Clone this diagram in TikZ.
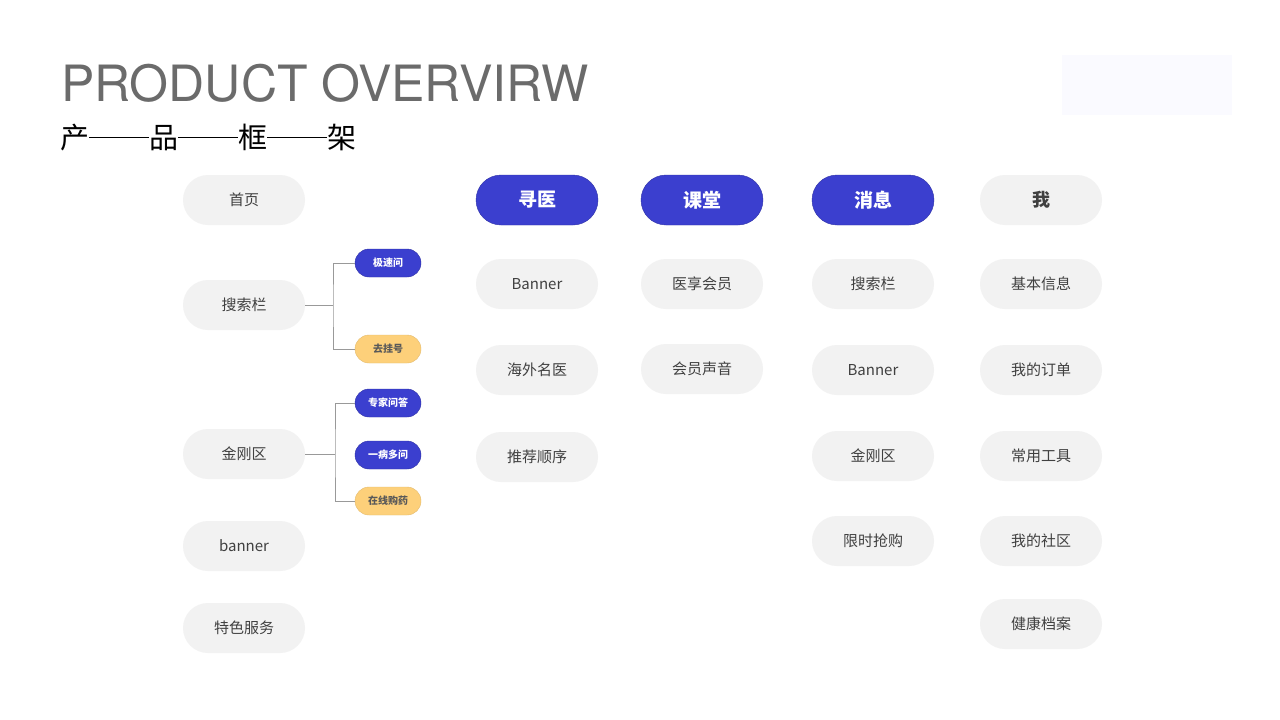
\documentclass[tikz,border=0pt]{standalone}
\usepackage{fontspec}
\setmainfont{TeX Gyre Heros}
\newfontfamily\cjk{Noto Sans CJK SC}
\usetikzlibrary{positioning}
\definecolor{pillgray}{HTML}{F2F2F2}
\definecolor{pillblue}{HTML}{3B3FCF}
\definecolor{pillyellow}{HTML}{FDD07A}
\definecolor{titlegray}{HTML}{6B6B6B}
\newcommand{\sep}{\rule[0.33em]{60pt}{1.1pt}}

\begin{document}
\begin{tikzpicture}[x=1pt, y=-1pt,
		pill/.style={rectangle, fill=pillgray, minimum width=122pt, minimum height=50pt, rounded corners=25pt, text=black!75, font=\cjk\fontsize{15}{15}\selectfont},
		head/.style={pill, fill=pillblue, draw=pillblue!80!black, text=white, font=\cjk\bfseries\fontsize{19}{19}\selectfont},
		tag/.style={rectangle, fill=pillblue, draw=pillblue!80!black, minimum width=66pt, minimum height=28pt, rounded corners=14pt, text=white, font=\cjk\bfseries\fontsize{10}{10}\selectfont},
		tagy/.style={tag, fill=pillyellow, draw=pillyellow!90!black, text=black!65},
		link/.style={draw=gray!80, line width=0.8pt}]
		\useasboundingbox (0,0) rectangle (1280,720);
		\fill[white] (0,0) rectangle (1280,720);
		\fill[blue!2] (1062,55) rectangle (1232,115);
		
		\node (title) [anchor=base west, inner sep=0, text=titlegray, font=\fontsize{50}{50}\selectfont] at (61,101) {PRODUCT OVERVIRW};
		\node (subtitle) [anchor=base west, inner sep=0, font=\cjk\fontsize{29}{29}\selectfont] at (60,148) {产\sep 品\sep 框\sep 架};
		
		% column 1
		\node (home) [pill] at (244,200) {首页};
		\node (search) [pill] at (244,305) {搜索栏};
		\node (kingkong) [pill] at (244,454) {金刚区};
		\node (banner) [pill] at (244,546) {banner};
		\node (special) [pill] at (244,628) {特色服务};
		
		\node (fastask) [tag] at (388,263) {极速问};
		\node (register) [tagy] at (388,349) {去挂号};
		\node (expert) [tag] at (388,403) {专家问答};
		\node (multi) [tag] at (388,455) {一病多问};
		\node (drug) [tagy] at (388,501) {在线购药};
		
		\draw[link] (search.east) -- (333,305) coordinate (sfork);
		\draw[link] (fastask.west) -| (sfork) |- (register.west);
		\draw[link] (kingkong.east) -- (335,454) coordinate (kfork);
		\draw[link] (expert.west) -| (kfork) |- (drug.west);
		
		% column 2
		\node (doctor) [head] at (537,200) {寻医};
		\node (dbanner) [pill] at (537,284) {Banner};
		\node (overseas) [pill] at (537,370) {海外名医};
		\node (order) [pill] at (537,457) {推荐顺序};
		
		% column 3
		\node (class) [head] at (702,200) {课堂};
		\node (member) [pill] at (702,284) {医享会员};
		\node (voice) [pill] at (702,369) {会员声音};
		
		% column 4
		\node (message) [head] at (873,200) {消息};
		\node (msearch) [pill] at (873,284) {搜索栏};
		\node (mbanner) [pill] at (873,370) {Banner};
		\node (mkingkong) [pill] at (873,456) {金刚区};
		\node (flash) [pill] at (873,541) {限时抢购};
		
		% column 5
		\node (me) [pill, font=\cjk\bfseries\fontsize{18}{18}\selectfont] at (1041,200) {我};
		\node (info) [pill] at (1041,284) {基本信息};
		\node (myorder) [pill] at (1041,370) {我的订单};
		\node (tools) [pill] at (1041,456) {常用工具};
		\node (community) [pill] at (1041,541) {我的社区};
		\node (health) [pill] at (1041,624) {健康档案};
	\end{tikzpicture}
\end{document}
